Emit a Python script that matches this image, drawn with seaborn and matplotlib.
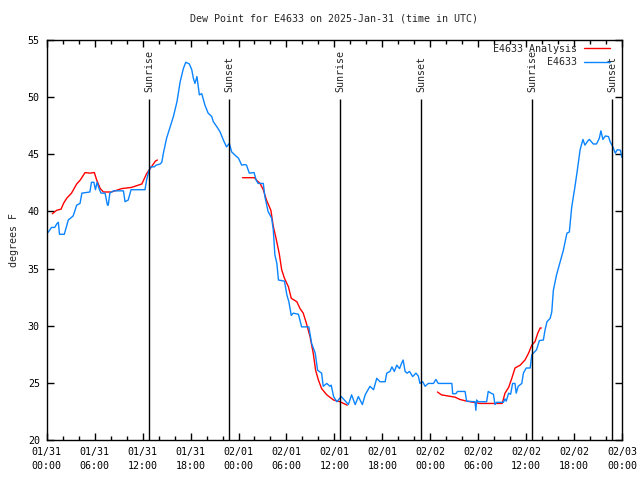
import pandas as pd
import seaborn as sns
import matplotlib.pyplot as plt
import matplotlib.dates as mdates
from matplotlib.lines import Line2D

# observed dew point (hours since 2025-01-31 00:00 UTC, degrees F)
obs_hours = [0.05, 0.2, 0.6, 1.0, 1.25, 1.45, 1.6, 2.2, 2.4, 2.7, 3.3, 3.5, 3.75, 4.17, 4.4,
             5.4, 5.6, 5.9, 6.1, 6.3, 6.55, 6.8, 7.3, 7.6, 7.7, 7.9, 8.35, 9.6, 9.8, 10.2,
             10.55, 12.3, 12.5, 12.8, 13.05, 13.45, 13.7, 14.2, 14.4, 14.6, 15.0, 15.4, 15.85,
             16.3, 16.7, 17.1, 17.4, 17.85, 18.15, 18.35, 18.55, 18.8, 19.1, 19.4, 19.8, 20.2,
             20.65, 20.85, 21.3, 21.7, 22.1, 22.5, 22.85, 23.15, 23.6, 24.0, 24.4, 24.8, 25.0,
             25.35, 25.95, 26.2, 26.45, 27.1, 27.3, 27.7, 28.15, 28.35, 28.55, 28.8, 29.0,
             29.75, 30.05, 30.3, 30.6, 30.85, 31.5, 31.9, 32.8, 33.15, 33.6, 33.9, 34.4, 34.6,
             35.05, 35.45, 35.6, 35.9, 36.3, 36.85, 37.25, 37.75, 38.15, 38.6, 39.0, 39.5,
             39.85, 40.45, 40.9, 41.3, 41.7, 42.35, 42.55, 42.95, 43.2, 43.5, 43.8, 44.15,
             44.4, 44.6, 44.85, 45.1, 45.4, 45.8, 46.2, 46.5, 46.7, 47.05, 47.35, 47.75, 48.4,
             48.7, 49.0, 50.7, 50.8, 51.2, 51.4, 52.35, 52.55, 53.6, 53.7, 53.8, 54.0, 55.05,
             55.25, 55.6, 55.9, 56.1, 56.3, 57.15, 57.35, 57.5, 57.8, 58.05, 58.3, 58.6, 58.75,
             59.0, 59.45, 59.65, 60.0, 60.5, 60.7, 61.1, 61.3, 61.65, 62.15, 62.35, 62.6, 63.0,
             63.2, 63.4, 63.8, 64.25, 64.65, 65.1, 65.4, 65.7, 66.1, 66.4, 66.75, 67.1, 67.35,
             67.75, 67.9, 68.4, 68.8, 69.15, 69.35, 69.6, 69.9, 70.3, 70.5, 70.85, 71.15, 71.4,
             71.8, 71.95]
obs_values = [38.1, 38.2, 38.6, 38.6, 38.9, 39.05, 38.0, 38.0, 38.5, 39.25, 39.6, 40.0, 40.55,
              40.7, 41.6, 41.7, 42.55, 42.55, 41.9, 42.55, 42.0, 41.6, 41.6, 40.55, 40.55, 41.6,
              41.8, 41.8, 40.85, 41.0, 41.9, 41.9, 42.75, 43.6, 43.9, 43.9, 44.05, 44.15, 44.3,
              45.1, 46.4, 47.3, 48.3, 49.6, 51.35, 52.5, 53.05, 52.9, 52.4, 51.65, 51.2, 51.8,
              50.2, 50.3, 49.3, 48.6, 48.3, 47.85, 47.4, 46.95, 46.25, 45.65, 45.95, 45.2, 44.9,
              44.65, 44.05, 44.1, 44.05, 43.35, 43.4, 42.75, 42.45, 42.45, 41.3, 40.0, 39.4, 38.4,
              36.2, 35.45, 34.0, 33.9, 32.7, 32.1, 30.9, 31.1, 31.0, 29.9, 29.9, 28.45, 27.6,
              26.1, 25.85, 24.7, 24.95, 24.7, 24.8, 23.8, 23.35, 23.8, 23.5, 23.1, 23.95, 23.1,
              23.8, 23.1, 23.95, 24.7, 24.4, 25.4, 25.1, 25.1, 25.85, 26.0, 26.4, 26.0, 26.55,
              26.25, 26.7, 27.0, 26.0, 25.85, 26.0, 25.55, 25.85, 25.6, 24.95, 25.1, 24.7, 24.95,
              24.95, 25.3, 24.95, 24.95, 24.05, 24.05, 24.25, 24.25, 23.4, 23.35, 22.6, 23.5,
              23.35, 23.35, 24.25, 24.1, 24.0, 23.1, 23.3, 23.3, 23.6, 23.4, 24.1, 24.0, 24.95,
              24.95, 24.1, 24.7, 24.95, 25.85, 26.3, 26.3, 27.45, 27.75, 27.9, 28.7, 28.75, 29.6,
              30.35, 30.65, 31.2, 33.1, 34.45, 35.6, 36.6, 38.1, 38.2, 40.4, 42.15, 43.6, 45.4,
              46.3, 45.8, 46.2, 46.3, 45.9, 45.9, 46.4, 47.05, 46.3, 46.6, 46.55, 46.1, 45.65,
              45.1, 45.4, 45.35, 44.75]

# analysis dew point, three separate segments
ana_hours = [0.7, 1.25, 1.8, 2.1, 2.5, 3.1, 3.75, 4.2, 4.8, 5.4, 5.96, 6.25, 6.7, 7.1, 8.1, 9.4,
             10.6, 11.9, 12.5, 13.1, 13.6, 13.85,
             24.5, 26.0, 26.3, 26.7, 27.1, 27.5, 28.05, 28.35, 28.65, 29.1, 29.4, 29.75, 30.25,
             30.6, 31.3, 31.7, 32.1, 32.5, 32.95, 33.35, 33.65, 34.0, 34.4, 35.05, 35.9, 36.7,
             37.6,
             48.9, 49.4, 50.25, 51.1, 51.7, 52.55, 53.4, 54.2, 55.25, 56.5, 57.0, 57.35, 57.8,
             58.2, 58.6, 59.25, 59.85, 60.3, 60.7, 61.1, 61.45, 61.75, 61.9]
ana_values = [39.8, 40.1, 40.2, 40.7, 41.15, 41.6, 42.4, 42.75, 43.4, 43.35, 43.4, 42.75, 42.0,
              41.7, 41.7, 42.0, 42.1, 42.4, 43.3, 43.9, 44.4, 44.5,
              42.95, 42.95, 42.7, 42.45, 41.9, 41.0, 40.1, 38.7, 37.8, 36.3, 34.9, 34.15, 33.4,
              32.4, 32.1, 31.5, 31.1, 30.2, 29.05, 27.6, 26.1, 25.25, 24.5, 23.95, 23.5, 23.35,
              23.05,
              24.2, 23.95, 23.85, 23.75, 23.55, 23.4, 23.3, 23.2, 23.2, 23.2, 23.2, 24.1, 24.6,
              25.4, 26.3, 26.55, 27.0, 27.6, 28.3, 28.6, 29.35, 29.8, 29.8]
ana_segment = [1] * 22 + [2] * 27 + [3] * 23

sun_hours = [12.84, 22.85, 36.75, 46.88, 60.78, 70.8]
sun_labels = ['Sunrise', 'Sunset', 'Sunrise', 'Sunset', 'Sunrise', 'Sunset']

start = pd.Timestamp('2025-01-31 00:00')
obs = pd.DataFrame({'time': start + pd.to_timedelta(obs_hours, unit='h'), 'dew': obs_values})
ana = pd.DataFrame({'time': start + pd.to_timedelta(ana_hours, unit='h'), 'dew': ana_values,
                    'seg': ana_segment})
sun_times = start + pd.to_timedelta(sun_hours, unit='h')

sns.set_style('ticks')
plt.rcParams['font.family'] = ['DejaVu Sans Mono']
plt.rcParams['font.size'] = 7.2

fig = plt.figure(figsize=(6.4, 4.8), dpi=100)
ax = fig.add_axes([0.073, 0.0833, 0.899, 0.8334])

red = '#ff0000'
blue = '#0a84ff'
sns.lineplot(data=ana, x='time', y='dew', units='seg', estimator=None, color=red,
             linewidth=1, ax=ax)
sns.lineplot(data=obs, x='time', y='dew', color=blue, linewidth=1, ax=ax)

ax.vlines(sun_times, 20, 49.85, color='black', linewidth=1)
for t, lab in zip(sun_times, sun_labels):
    ax.text(t, 50.45, lab, rotation=90, ha='center', va='bottom', fontsize=7.2)

end = start + pd.Timedelta(hours=72)
ax.set_xlim(start, end)
ax.set_ylim(20, 55)
ax.set_yticks(range(20, 56, 5))

major = pd.date_range(start, end, freq='6h')
ax.set_xticks(major, [d.strftime('%m/%d\n%H:%M') for d in major])
ax.xaxis.set_minor_locator(mdates.HourLocator(interval=2))
for lab in ax.get_xticklabels():
    lab.set_linespacing(1.45)

ax.tick_params(which='both', direction='in', top=True, right=True, colors='black',
               labelsize=7.2, pad=5)
ax.tick_params(which='major', length=5, width=1)
ax.tick_params(which='minor', length=3, width=1)
for s in ax.spines.values():
    s.set_color('black')
    s.set_linewidth(1)

ax.set_xlabel('')
ax.set_ylabel('degrees F', fontsize=7.2, labelpad=6)
ax.set_title('Dew Point for E4633 on 2025-Jan-31 (time in UTC)', fontsize=7.2, pad=13)

handles = [Line2D([], [], color=red, linewidth=1), Line2D([], [], color=blue, linewidth=1)]
ax.legend(handles, ['E4633 Analysis', 'E4633'], loc='upper right',
          bbox_to_anchor=(0.986, 1.0), frameon=False,
          markerfirst=False, handlelength=2.6, handletextpad=0.7, labelspacing=0.35,
          borderaxespad=0.1, borderpad=0.3, fontsize=7.2)

plt.savefig('out.png', dpi=100)
plt.close()
